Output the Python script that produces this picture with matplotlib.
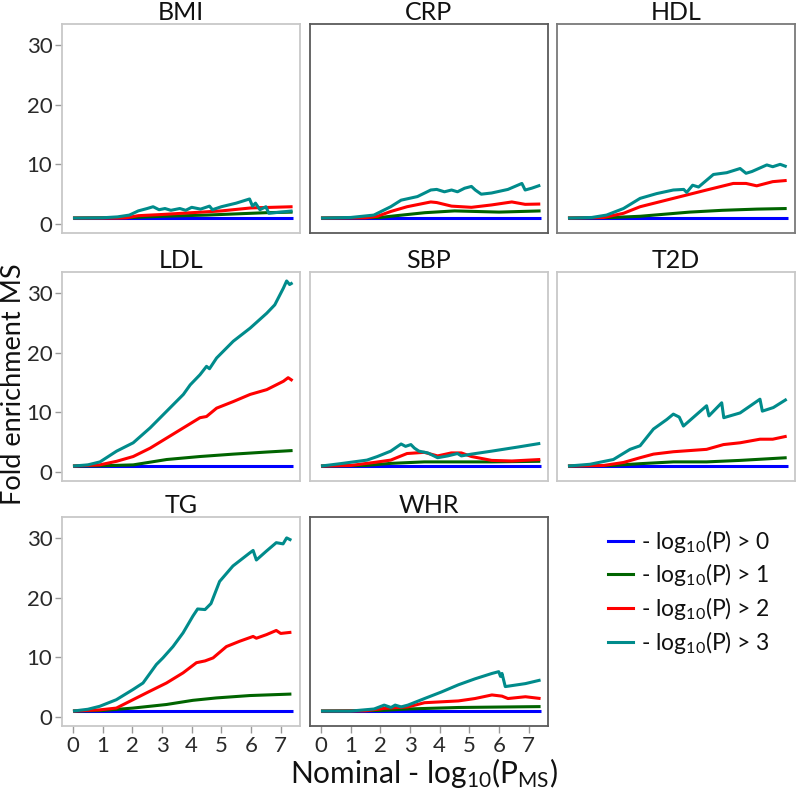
import matplotlib
matplotlib.use("Agg")
import matplotlib.pyplot as plt
from matplotlib.lines import Line2D

plt.rcParams['font.family'] = ['Lato', 'DejaVu Sans']
plt.rcParams['mathtext.fontset'] = 'custom'
plt.rcParams['mathtext.rm'] = 'Lato'
plt.rcParams['mathtext.it'] = 'Lato:italic'
plt.rcParams['mathtext.default'] = 'regular'

panels = ["BMI", "CRP", "HDL", "LDL", "SBP", "T2D", "TG", "WHR"]
series_labels = [r"- log$_{10}$(P) > 0", r"- log$_{10}$(P) > 1",
                 r"- log$_{10}$(P) > 2", r"- log$_{10}$(P) > 3"]
colors = ["#0000ff", "#006400", "#ff0000", "#008b8b"]
xticks = [0, 1, 2, 3, 4, 5, 6, 7]
yticks = [0, 10, 20, 30]

blue_x = [0, 7.4]
blue_y = [1, 1]

BMI_green_x = [0, 2, 3, 4.5, 6.5, 7.4]
BMI_green_y = [1, 1.1, 1.3, 1.5, 1.9, 2.0]
BMI_red_x = [0, 1.5, 1.8, 2.2, 3, 4, 5, 6, 7.4]
BMI_red_y = [1, 1.0, 1.05, 1.4, 1.6, 1.9, 2.2, 2.7, 2.9]
BMI_teal_x = [0, 1.0, 1.5, 1.9, 2.2, 2.5, 2.7, 2.9, 3.1, 3.3, 3.6, 3.8, 4.0, 4.3, 4.6, 4.7,
              5.0, 5.5, 5.95, 6.05, 6.15, 6.3, 6.5, 6.6, 7.0, 7.4]
BMI_teal_y = [1, 1.05, 1.2, 1.5, 2.2, 2.6, 2.9, 2.4, 2.6, 2.3, 2.6, 2.3, 2.8, 2.5, 3.0, 2.4,
              2.9, 3.5, 4.2, 3.0, 3.5, 2.4, 2.9, 1.8, 2.0, 2.2]

CRP_green_x = [0, 2.0, 2.35, 3.5, 4.5, 6.0, 7.4]
CRP_green_y = [1, 1.1, 1.3, 1.9, 2.2, 2.0, 2.2]
CRP_red_x = [0, 1.5, 1.9, 2.35, 2.9, 3.7, 3.9, 4.4, 5.07, 5.75, 6.43, 6.88, 7.39]
CRP_red_y = [1, 1.05, 1.3, 2.1, 2.9, 3.7, 3.6, 3.0, 2.8, 3.2, 3.7, 3.3, 3.35]
CRP_teal_x = [0, 1.0, 1.78, 2.35, 2.7, 3.25, 3.7, 3.9, 4.16, 4.4, 4.6, 4.84, 5.07, 5.2, 5.4,
              5.75, 6.3, 6.77, 6.88, 7.1, 7.39]
CRP_teal_y = [1, 1.1, 1.5, 2.9, 4.0, 4.6, 5.7, 5.8, 5.4, 5.7, 5.4, 6.0, 6.3, 5.7, 5.0,
              5.2, 5.8, 6.8, 5.7, 6.0, 6.5]

HDL_green_x = [0, 1.5, 2.43, 4.1, 5.2, 6.36, 7.37]
HDL_green_y = [1, 1.1, 1.3, 2.0, 2.3, 2.5, 2.6]
HDL_red_x = [0, 1.2, 1.87, 2.43, 3.55, 4.67, 5.57, 6.0, 6.36, 6.9, 7.37]
HDL_red_y = [1, 1.1, 1.8, 2.9, 4.3, 5.7, 6.8, 6.8, 6.4, 7.1, 7.3]
HDL_teal_x = [0, 0.8, 1.3, 1.87, 2.43, 2.99, 3.55, 3.9, 4.0, 4.2, 4.4, 4.9, 5.35, 5.8, 6.0,
              6.2, 6.7, 6.9, 7.15, 7.37]
HDL_teal_y = [1, 1.1, 1.5, 2.6, 4.3, 5.1, 5.7, 5.8, 5.3, 6.5, 6.2, 8.3, 8.6, 9.3, 8.5,
              8.8, 9.9, 9.6, 10.0, 9.6]

LDL_green_x = [0, 1, 2.03, 3.16, 4.28, 5.4, 6.53, 7.4]
LDL_green_y = [1, 1.05, 1.2, 2.1, 2.6, 3.0, 3.35, 3.6]
LDL_red_x = [0, 0.9, 1.47, 2.03, 2.6, 3.16, 3.72, 4.28, 4.5, 4.84, 5.4, 5.97, 6.53, 7.09,
             7.25, 7.4]
LDL_red_y = [1, 1.2, 1.8, 2.6, 4.0, 5.7, 7.4, 9.1, 9.3, 10.7, 11.8, 13.0, 13.8, 15.2,
             15.8, 15.3]
LDL_teal_x = [0, 0.5, 0.91, 1.47, 2.03, 2.6, 3.16, 3.72, 3.95, 4.28, 4.5, 4.6, 4.84, 5.4,
              5.97, 6.53, 6.8, 7.09, 7.2, 7.3, 7.4]
LDL_teal_y = [1, 1.2, 1.7, 3.5, 4.9, 7.4, 10.2, 13, 14.6, 16.3, 17.7, 17.3, 19.1, 21.9,
              24.1, 26.6, 28, 30.8, 32, 31.4, 31.7]

SBP_green_x = [0, 1.5, 2.35, 3.48, 5.75, 7.39]
SBP_green_y = [1, 1.1, 1.45, 1.7, 1.7, 1.8]
SBP_red_x = [0, 1.0, 1.78, 2.35, 2.9, 3.48, 3.93, 4.39, 4.73, 5.07, 5.75, 6.43, 7.39]
SBP_red_y = [1, 1.1, 1.6, 2.0, 3.1, 3.3, 2.7, 3.2, 3.2, 2.6, 1.95, 1.85, 2.1]
SBP_teal_x = [0, 0.65, 1.55, 1.9, 2.35, 2.7, 2.85, 3.03, 3.15, 3.3, 3.6, 3.93, 4.27, 4.6,
              4.73, 5.07, 5.75, 6.65, 7.39]
SBP_teal_y = [1, 1.4, 2.0, 2.6, 3.5, 4.7, 4.3, 4.6, 4.0, 3.5, 3.2, 2.4, 2.7, 3.1,
              2.7, 3.0, 3.5, 4.2, 4.8]

T2D_green_x = [0, 1.5, 2.43, 3.55, 4.67, 5.8, 7.37]
T2D_green_y = [1, 1.1, 1.4, 1.7, 1.7, 1.95, 2.4]
T2D_red_x = [0, 1.2, 1.87, 2.43, 2.88, 3.55, 4.67, 5.24, 5.8, 6.47, 6.9, 7.37]
T2D_red_y = [1, 1.1, 1.6, 2.4, 3.0, 3.4, 3.8, 4.6, 4.9, 5.5, 5.5, 6.0]
T2D_teal_x = [0, 0.74, 1.53, 2.09, 2.43, 2.88, 3.33, 3.55, 3.75, 3.89, 4.67, 4.75, 5.18,
              5.25, 5.8, 6.47, 6.55, 6.92, 7.37]
T2D_teal_y = [1, 1.3, 2.1, 3.8, 4.4, 7.2, 8.8, 9.7, 9.2, 7.7, 11.1, 9.4, 11.6,
              9.1, 9.9, 12.2, 10.2, 10.8, 12.2]

TG_green_x = [0, 1.0, 2.02, 3.15, 4.04, 4.83, 5.96, 7.36]
TG_green_y = [1, 1.1, 1.5, 2.1, 2.8, 3.2, 3.6, 3.85]
TG_red_x = [0, 0.9, 1.46, 2.02, 2.58, 3.15, 3.71, 4.16, 4.45, 4.72, 5.17, 5.62, 6.07, 6.18,
            6.52, 6.85, 7.0, 7.36]
TG_red_y = [1, 1.2, 1.5, 2.9, 4.3, 5.7, 7.4, 9.1, 9.4, 9.9, 11.8, 12.7, 13.5, 13.2,
            13.8, 14.5, 14.0, 14.2]
TG_teal_x = [0, 0.5, 0.9, 1.46, 2.02, 2.36, 2.81, 3.03, 3.37, 3.71, 4.04, 4.2, 4.45, 4.65,
             4.94, 5.39, 5.96, 6.07, 6.18, 6.52, 6.85, 7.08, 7.2, 7.36]
TG_teal_y = [1, 1.3, 1.8, 2.9, 4.6, 5.7, 8.8, 9.9, 11.8, 14.1, 16.9, 18.1, 18.0, 19.0,
             22.7, 25.3, 27.5, 27.9, 26.3, 27.8, 29.2, 29.0, 30.0, 29.6]

WHR_green_x = [0, 2.0, 2.93, 4.63, 7.4]
WHR_green_y = [1, 1.1, 1.35, 1.6, 1.75]
WHR_red_x = [0, 1.5, 2.13, 2.93, 3.49, 4.63, 5.19, 5.76, 6.1, 6.3, 6.89, 7.4]
WHR_red_y = [1, 1.05, 1.45, 1.7, 2.4, 2.7, 3.1, 3.7, 3.5, 3.1, 3.4, 3.1]
WHR_teal_x = [0, 1.0, 1.79, 2.13, 2.36, 2.5, 2.7, 2.93, 3.49, 4.06, 4.63, 5.19, 5.76, 5.99,
              6.05, 6.1, 6.21, 6.89, 7.4]
WHR_teal_y = [1, 1.0, 1.35, 2.0, 1.6, 2.0, 1.7, 2.0, 3.1, 4.2, 5.4, 6.4, 7.3, 7.6,
              6.8, 7.3, 5.1, 5.6, 6.2]

data = {
    "BMI": [(BMI_green_x, BMI_green_y), (BMI_red_x, BMI_red_y), (BMI_teal_x, BMI_teal_y)],
    "CRP": [(CRP_green_x, CRP_green_y), (CRP_red_x, CRP_red_y), (CRP_teal_x, CRP_teal_y)],
    "HDL": [(HDL_green_x, HDL_green_y), (HDL_red_x, HDL_red_y), (HDL_teal_x, HDL_teal_y)],
    "LDL": [(LDL_green_x, LDL_green_y), (LDL_red_x, LDL_red_y), (LDL_teal_x, LDL_teal_y)],
    "SBP": [(SBP_green_x, SBP_green_y), (SBP_red_x, SBP_red_y), (SBP_teal_x, SBP_teal_y)],
    "T2D": [(T2D_green_x, T2D_green_y), (T2D_red_x, T2D_red_y), (T2D_teal_x, T2D_teal_y)],
    "TG": [(TG_green_x, TG_green_y), (TG_red_x, TG_red_y), (TG_teal_x, TG_teal_y)],
    "WHR": [(WHR_green_x, WHR_green_y), (WHR_red_x, WHR_red_y), (WHR_teal_x, WHR_teal_y)],
}
border = {"BMI": "#c8c8c8", "CRP": "#5a5a5a", "HDL": "#7a7a7a", "LDL": "#c8c8c8",
          "SBP": "#c8c8c8", "T2D": "#c8c8c8", "TG": "#c8c8c8", "WHR": "#5a5a5a"}

W, H = 800, 791
fig = plt.figure(figsize=(W / 100, H / 100), dpi=100)

lefts = [62, 310, 557]
tops = [24, 272, 517]
pw, ph = 238, 209

for i, name in enumerate(panels):
    r, c = divmod(i, 3)
    ax = fig.add_axes([lefts[c] / W, 1 - (tops[r] + ph) / H, pw / W, ph / H])
    ax.plot(blue_x, blue_y, color=colors[0], lw=2.2, solid_capstyle='butt')
    for (xs, ys), col in zip(data[name], colors[1:]):
        ax.plot(xs, ys, color=col, lw=2.2, solid_capstyle='butt')
    ax.set_xlim(-0.37, 7.65)
    ax.set_ylim(-1.5, 33.5)
    ax.set_xticks(xticks)
    ax.set_yticks(yticks)
    for s in ax.spines.values():
        s.set_color(border[name])
        s.set_linewidth(1.3)
    ax.tick_params(length=5, width=1, color="#9a9a9a", labelsize=16,
                   labelcolor="#2a2a2a", pad=2)
    if c != 0:
        ax.tick_params(axis='y', left=False, labelleft=False)
    if r != 2:
        ax.tick_params(axis='x', bottom=False, labelbottom=False)
    ax.set_title(name, fontsize=18, color="#111111", pad=3)

fig.text(14 / W, 1 - 384 / H, "Fold enrichment MS", rotation=90, ha='center',
         va='center', fontsize=19.5, color="#111111")
fig.text(424 / W, 1 - 773 / H, r"Nominal - log$_{10}$(P$_{MS}$)", ha='center',
         va='center', fontsize=21.5, color="#111111")

handles = [Line2D([], [], color=col, lw=2.2) for col in colors]
fig.legend(handles, series_labels, loc='upper left',
           bbox_to_anchor=(587 / W, 1 - 507 / H), frameon=False, fontsize=16.5,
           handlelength=1.1, handletextpad=0.35, labelspacing=0.3,
           labelcolor="#111111")

fig.savefig("out.png", dpi=100)
